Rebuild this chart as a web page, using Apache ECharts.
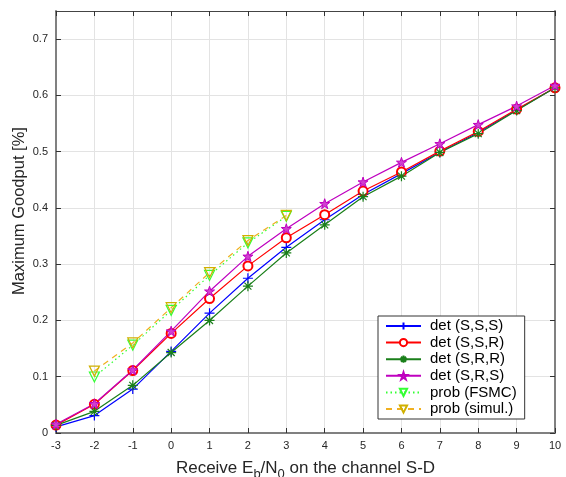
<!DOCTYPE html>
<html><head><meta charset="utf-8">
<script src="https://cdn.jsdelivr.net/npm/echarts@6/dist/echarts.min.js"></script>
<style>html,body{margin:0;padding:0;background:#fff}#c{width:566px;height:477px}</style>
</head><body><div id="c"></div>
<script>
const xDet = [-3,-2,-1,0,1,2,3,4,5,6,7,8,9,10];
const detSSS = [0.011,0.031,0.078,0.145,0.213,0.275,0.330,0.379,0.424,0.461,0.499,0.534,0.574,0.6135];
const detSSR = [0.014,0.051,0.111,0.177,0.239,0.297,0.347,0.388,0.430,0.464,0.501,0.536,0.5755,0.6135];
const detSRR = [0.0135,0.0385,0.0847,0.143,0.200,0.261,0.320,0.370,0.420,0.4565,0.4986,0.532,0.573,0.6135];
const detSRS = [0.0155,0.052,0.112,0.181,0.252,0.314,0.363,0.4075,0.446,0.481,0.514,0.548,0.581,0.6176];
const xProb = [-2,-1,0,1,2,3];
const probFSMC = [0.0995,0.156,0.218,0.280,0.338,0.385];
const probSimul = [0.110,0.160,0.2227,0.285,0.342,0.3866];
const xTicks = [-3,-2,-1,0,1,2,3,4,5,6,7,8,9,10];
const yTicks = [0,0.1,0.2,0.3,0.4,0.5,0.6,0.7];

const plusPath = 'path://M5,0 L5,10 M0,5 L10,5';
const astPath = 'path://M5,0 L5,10 M0,5 L10,5 M1.5,1.5 L8.5,8.5 M1.5,8.5 L8.5,1.5';
const starPath = 'path://M5,0 L6.2,3.6 L10,3.6 L6.9,5.9 L8.1,9.5 L5,7.3 L1.9,9.5 L3.1,5.9 L0,3.6 L3.8,3.6 Z';
const triPath = 'path://M0,0 L10,0 L5,9 Z';

function pairs(xs, ys){ return xs.map((x,i)=>[x, ys[i]]); }
function mk(name, xs, ys, color, symbol, size, lineType, fill, bw){
  return {
    name, type:'line', data: pairs(xs, ys), symbol, symbolSize: size,
    showSymbol:true,
    lineStyle:{color, width:1.2, type: lineType},
    itemStyle:{color: fill, borderColor: color, borderWidth: bw},
    emphasis:{disabled:true}, animation:false
  };
}
const FONT = 'Liberation Sans, Arial, sans-serif';
const chart = echarts.init(document.getElementById('c'));
chart.setOption({
  animation:false,
  grid:{left:56, right:11, top:11, bottom:44, outerBoundsMode:'none', containLabel:false},
  xAxis:[{
    type:'value', min:-3, max:10, interval:1,
    axisLine:{show:true, onZero:false, lineStyle:{color:'#808080', width:2}},
    axisTick:{show:true, inside:true, length:5, lineStyle:{color:'#333'}},
    axisLabel:{color:'#262626', fontSize:11, fontFamily:FONT, margin:7},
    splitLine:{show:true, lineStyle:{color:'#e3e3e3', width:1}},
    name:'Receive E{s|b}/N{s|0} on the channel S-D',
    nameLocation:'middle', nameGap:22, nameMoveOverlap:false,
    nameTextStyle:{color:'#262626', fontSize:17, fontFamily:FONT,
      rich:{s:{fontSize:13, fontFamily:FONT, color:'#262626', padding:[13,0,0,0]}}}
  },{
    type:'value', min:-3, max:10, interval:1, position:'top',
    axisLine:{show:true, onZero:false, lineStyle:{color:'#444', width:1}},
    axisTick:{show:true, inside:true, length:5, lineStyle:{color:'#333'}},
    axisLabel:{show:false}, splitLine:{show:false}
  }],
  yAxis:[{
    type:'value', min:0, max:0.75, interval:0.1,
    axisLine:{show:true, onZero:false, lineStyle:{color:'#808080', width:2}},
    axisTick:{show:true, inside:true, length:5, lineStyle:{color:'#333'}},
    axisLabel:{color:'#262626', fontSize:11, fontFamily:FONT, margin:8, showMaxLabel:false,
      formatter: v => { const m = yTicks.find(t => Math.abs(t-v)<1e-9); return m===undefined ? '' : String(m); }},
    splitLine:{show:true, lineStyle:{color:'#e3e3e3', width:1}},
    name:'Maximum Goodput [%]', nameLocation:'middle', nameGap:28, nameMoveOverlap:false,
    nameTextStyle:{color:'#262626', fontSize:16.5, fontFamily:FONT, padding:[0,0,0,22]}
  },{
    type:'value', min:0, max:0.75, interval:0.1, position:'right',
    axisLine:{show:true, onZero:false, lineStyle:{color:'#808080', width:2}},
    axisTick:{show:true, inside:true, length:5, lineStyle:{color:'#333'}},
    axisLabel:{show:false}, splitLine:{show:false}
  }],
  legend:{
    orient:'vertical', left:378, top:316, width:162,
    itemWidth:35, itemHeight:9, itemGap:0.6,
    padding:[2,8,2,7],
    backgroundColor:'#fff', borderColor:'#333', borderWidth:1,
    textStyle:{fontSize:15, fontFamily:FONT, color:'#000', padding:[0,0,0,4], lineHeight:16},
    data:['det (S,S,S)','det (S,S,R)','det (S,R,R)','det (S,R,S)','prob (FSMC)','prob (simul.)']
  },
  series:[
    mk('det (S,S,S)', xDet, detSSS, '#0000ff', plusPath, 10, 'solid', 'transparent', 1.2),
    mk('det (S,S,R)', xDet, detSSR, '#ff0000', 'emptyCircle', 9, 'solid', '#ff0000', 1.2),
    mk('det (S,R,R)', xDet, detSRR, '#1a7f1a', astPath, 10, 'solid', 'transparent', 1.2),
    mk('det (S,R,S)', xDet, detSRS, '#bf00bf', starPath, 10, 'solid', '#d040d0', 1),
    mk('prob (FSMC)', xProb, probFSMC, '#33ff33', triPath, 10, [1.5,3], 'transparent', 1.2),
    mk('prob (simul.)', xProb, probSimul, '#f0b020', triPath, 10, [6,5], 'transparent', 1.2)
  ].map((s,i)=>{ if(i===5){ s.itemStyle.borderColor='#d0b000'; } return s; })
});
</script></body></html>
